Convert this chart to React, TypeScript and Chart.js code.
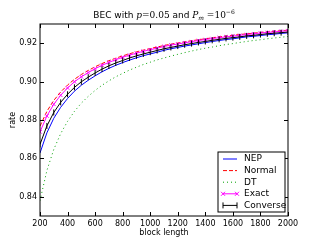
import React, { useEffect, useRef } from "react";
import { Chart, registerables } from "chart.js";

Chart.register(...registerables);

const BLOCK_LENGTHS = [200, 250, 300, 350, 400, 450, 500, 550, 600, 650, 700, 750, 800, 850, 900, 950, 1000, 1050, 1100, 1150, 1200, 1250, 1300, 1350, 1400, 1450, 1500, 1550, 1600, 1650, 1700, 1750, 1800, 1850, 1900, 1950, 2000];

const NEP = [0.8628, 0.8733, 0.8809, 0.8866, 0.8912, 0.8950, 0.8981, 0.9007, 0.9030, 0.9051, 0.9069, 0.9085, 0.9099, 0.9112, 0.9124, 0.9135, 0.9144, 0.9153, 0.9163, 0.9171, 0.9178, 0.9185, 0.9191, 0.9197, 0.9203, 0.9209, 0.9214, 0.9219, 0.9223, 0.9228, 0.9233, 0.9236, 0.9240, 0.9244, 0.9247, 0.9251, 0.9254];
const NORMAL = [0.8768, 0.8845, 0.8902, 0.8946, 0.8982, 0.9012, 0.9037, 0.9058, 0.9077, 0.9094, 0.9109, 0.9122, 0.9134, 0.9145, 0.9155, 0.9164, 0.9172, 0.9180, 0.9188, 0.9195, 0.9201, 0.9207, 0.9213, 0.9218, 0.9223, 0.9228, 0.9233, 0.9237, 0.9241, 0.9245, 0.9249, 0.9252, 0.9256, 0.9259, 0.9262, 0.9265, 0.9268];
const DT = [0.8380, 0.8537, 0.8647, 0.8729, 0.8793, 0.8845, 0.8888, 0.8923, 0.8954, 0.8981, 0.9004, 0.9025, 0.9043, 0.9060, 0.9075, 0.9089, 0.9101, 0.9113, 0.9123, 0.9133, 0.9142, 0.9151, 0.9159, 0.9167, 0.9174, 0.9180, 0.9187, 0.9193, 0.9198, 0.9204, 0.9209, 0.9214, 0.9218, 0.9223, 0.9227, 0.9231, 0.9235];
const EXACT = [0.8738, 0.8821, 0.8882, 0.8929, 0.8967, 0.8999, 0.9025, 0.9047, 0.9067, 0.9085, 0.9100, 0.9114, 0.9127, 0.9138, 0.9148, 0.9158, 0.9166, 0.9174, 0.9183, 0.9190, 0.9196, 0.9202, 0.9208, 0.9214, 0.9219, 0.9224, 0.9229, 0.9233, 0.9237, 0.9241, 0.9245, 0.9249, 0.9253, 0.9256, 0.9259, 0.9262, 0.9265];
const CONVERSE = [0.8673, 0.8769, 0.8839, 0.8892, 0.8934, 0.8970, 0.8999, 0.9023, 0.9045, 0.9065, 0.9082, 0.9097, 0.9110, 0.9123, 0.9134, 0.9144, 0.9153, 0.9162, 0.9171, 0.9178, 0.9185, 0.9192, 0.9198, 0.9204, 0.9209, 0.9215, 0.9220, 0.9225, 0.9229, 0.9233, 0.9238, 0.9241, 0.9245, 0.9249, 0.9252, 0.9255, 0.9258];

const SERIES_NAMES = ["NEP", "Normal", "DT", "Exact", "Converse"];
const X_TICKS = [200, 400, 600, 800, 1000, 1200, 1400, 1600, 1800, 2000];
const Y_TICKS = [0.84, 0.86, 0.88, 0.9, 0.92];
const X_LABEL = "block length";
const Y_LABEL = "rate";
const TITLE_PARTS = [
  { t: "BEC with ", f: "9px 'DejaVu Sans'", dy: 0 },
  { t: "p", f: "italic 9px 'DejaVu Serif'", dy: 0 },
  { t: "=0.05", f: "9px 'DejaVu Serif'", dy: 0 },
  { t: " and ", f: "9px 'DejaVu Sans'", dy: 0 },
  { t: "P", f: "italic 9px 'DejaVu Serif'", dy: 0 },
  { t: "m", f: "italic 6px 'DejaVu Serif'", dy: 2 },
  { t: " =10", f: "9px 'DejaVu Serif'", dy: 0 },
  { t: "−6", f: "6px 'DejaVu Serif'", dy: -4 },
];

const COLORS = ["#0000ff", "#ff0000", "#00a000", "#ff00ff", "#000000"];
const DASHES: number[][] = [[], [4, 2], [1, 3], [], []];

const decorPlugin = {
  id: "decor",
  afterDraw(chart: any) {
    const { ctx, chartArea, scales } = chart;
    const { left, right, top, bottom } = chartArea;
    ctx.save();
    ctx.strokeStyle = "#000";
    ctx.lineWidth = 1;
    ctx.setLineDash([]);
    ctx.strokeRect(left, top, right - left, bottom - top);
    ctx.beginPath();
    X_TICKS.forEach((v) => {
      const x = Math.round(scales.x.getPixelForValue(v)) + 0.5;
      ctx.moveTo(x, bottom);
      ctx.lineTo(x, bottom - 4);
      ctx.moveTo(x, top);
      ctx.lineTo(x, top + 4);
    });
    Y_TICKS.forEach((v) => {
      const y = Math.round(scales.y.getPixelForValue(v)) + 0.5;
      ctx.moveTo(left, y);
      ctx.lineTo(left + 4, y);
      ctx.moveTo(right, y);
      ctx.lineTo(right - 4, y);
    });
    ctx.stroke();

    let total = 0;
    TITLE_PARTS.forEach((p) => {
      ctx.font = p.f;
      total += ctx.measureText(p.t).width;
    });
    let tx = (left + right) / 2 - total / 2;
    ctx.fillStyle = "#000";
    ctx.textBaseline = "alphabetic";
    ctx.textAlign = "left";
    TITLE_PARTS.forEach((p) => {
      ctx.font = p.f;
      ctx.fillText(p.t, tx, 18 + p.dy);
      tx += ctx.measureText(p.t).width;
    });

    const bw = 67;
    const bh = 60;
    const bx = right - 3 - bw;
    const by = bottom - 4 - bh;
    ctx.fillStyle = "#fff";
    ctx.fillRect(bx, by, bw, bh);
    ctx.strokeStyle = "#000";
    ctx.strokeRect(bx, by, bw, bh);
    SERIES_NAMES.forEach((name, i) => {
      const y = by + 7 + i * 11.6;
      const x0 = bx + 5;
      const x1 = bx + 19;
      ctx.strokeStyle = COLORS[i];
      ctx.lineWidth = 1;
      ctx.setLineDash(DASHES[i]);
      ctx.beginPath();
      ctx.moveTo(x0, y);
      ctx.lineTo(x1, y);
      ctx.stroke();
      ctx.setLineDash([]);
      if (i === 3) {
        [x0, x1].forEach((mx) => {
          ctx.beginPath();
          ctx.moveTo(mx - 2, y - 2);
          ctx.lineTo(mx + 2, y + 2);
          ctx.moveTo(mx - 2, y + 2);
          ctx.lineTo(mx + 2, y - 2);
          ctx.stroke();
        });
      }
      if (i === 4) {
        [x0, x1].forEach((mx) => {
          ctx.beginPath();
          ctx.moveTo(mx, y - 3);
          ctx.lineTo(mx, y + 3);
          ctx.stroke();
        });
      }
      ctx.fillStyle = "#000";
      ctx.font = "9px 'DejaVu Sans'";
      ctx.textBaseline = "middle";
      ctx.fillText(name, bx + 26, y);
    });
    ctx.restore();
  },
};

export default function App() {
  const ref = useRef<HTMLCanvasElement>(null);
  useEffect(() => {
    document.body.style.margin = "0";
    const mk = (arr: number[]) => BLOCK_LENGTHS.map((x, i) => ({ x, y: arr[i] }));
    const series = [NEP, NORMAL, DT, EXACT, CONVERSE];
    const datasets = series.map((arr, i) => ({
      label: SERIES_NAMES[i],
      data: mk(arr),
      borderColor: COLORS[i],
      backgroundColor: COLORS[i],
      borderWidth: 1,
      borderDash: DASHES[i],
      fill: false,
      tension: 0,
      order: 5 - i,
      pointRadius: i === 3 ? 2.5 : i === 4 ? 3 : 0,
      pointStyle: i === 3 ? "crossRot" : i === 4 ? "line" : "circle",
      rotation: i === 4 ? 90 : 0,
      pointBorderColor: COLORS[i],
      pointBorderWidth: 1,
    }));
    const tickFont = { family: "DejaVu Sans", size: 8 };
    const chart = new Chart(ref.current!, {
      type: "line",
      data: { datasets },
      options: {
        responsive: false,
        animation: false,
        events: [],
        layout: { padding: { left: 4, right: 32, top: 24, bottom: 0 } },
        plugins: { legend: { display: false }, title: { display: false }, tooltip: { enabled: false } },
        scales: {
          x: {
            type: "linear",
            min: 200,
            max: 2000,
            afterBuildTicks: (s: any) => {
              s.ticks = X_TICKS.map((v) => ({ value: v }));
            },
            afterFit: (s: any) => {
              s.height = 24;
            },
            ticks: { font: tickFont, color: "#000", padding: 3, maxRotation: 0, autoSkip: false, callback: (v: any) => String(v) },
            grid: { display: false, drawTicks: false },
            border: { display: false },
            title: { display: true, text: X_LABEL, font: tickFont, color: "#000", padding: { top: 0, bottom: 2 } },
          },
          y: {
            type: "linear",
            min: 0.83,
            max: 0.93,
            afterBuildTicks: (s: any) => {
              s.ticks = Y_TICKS.map((v) => ({ value: v }));
            },
            afterFit: (s: any) => {
              s.width = 36;
            },
            ticks: { font: tickFont, color: "#000", padding: 3, autoSkip: false, callback: (v: any) => Number(v).toFixed(2) },
            grid: { display: false, drawTicks: false },
            border: { display: false },
            title: { display: true, text: Y_LABEL, font: tickFont, color: "#000", padding: { top: 4, bottom: 0 } },
          },
        },
      },
      plugins: [decorPlugin],
    } as any);
    return () => chart.destroy();
  }, []);
  return <canvas ref={ref} width={320} height={240} style={{ display: "block" }} />;
}
